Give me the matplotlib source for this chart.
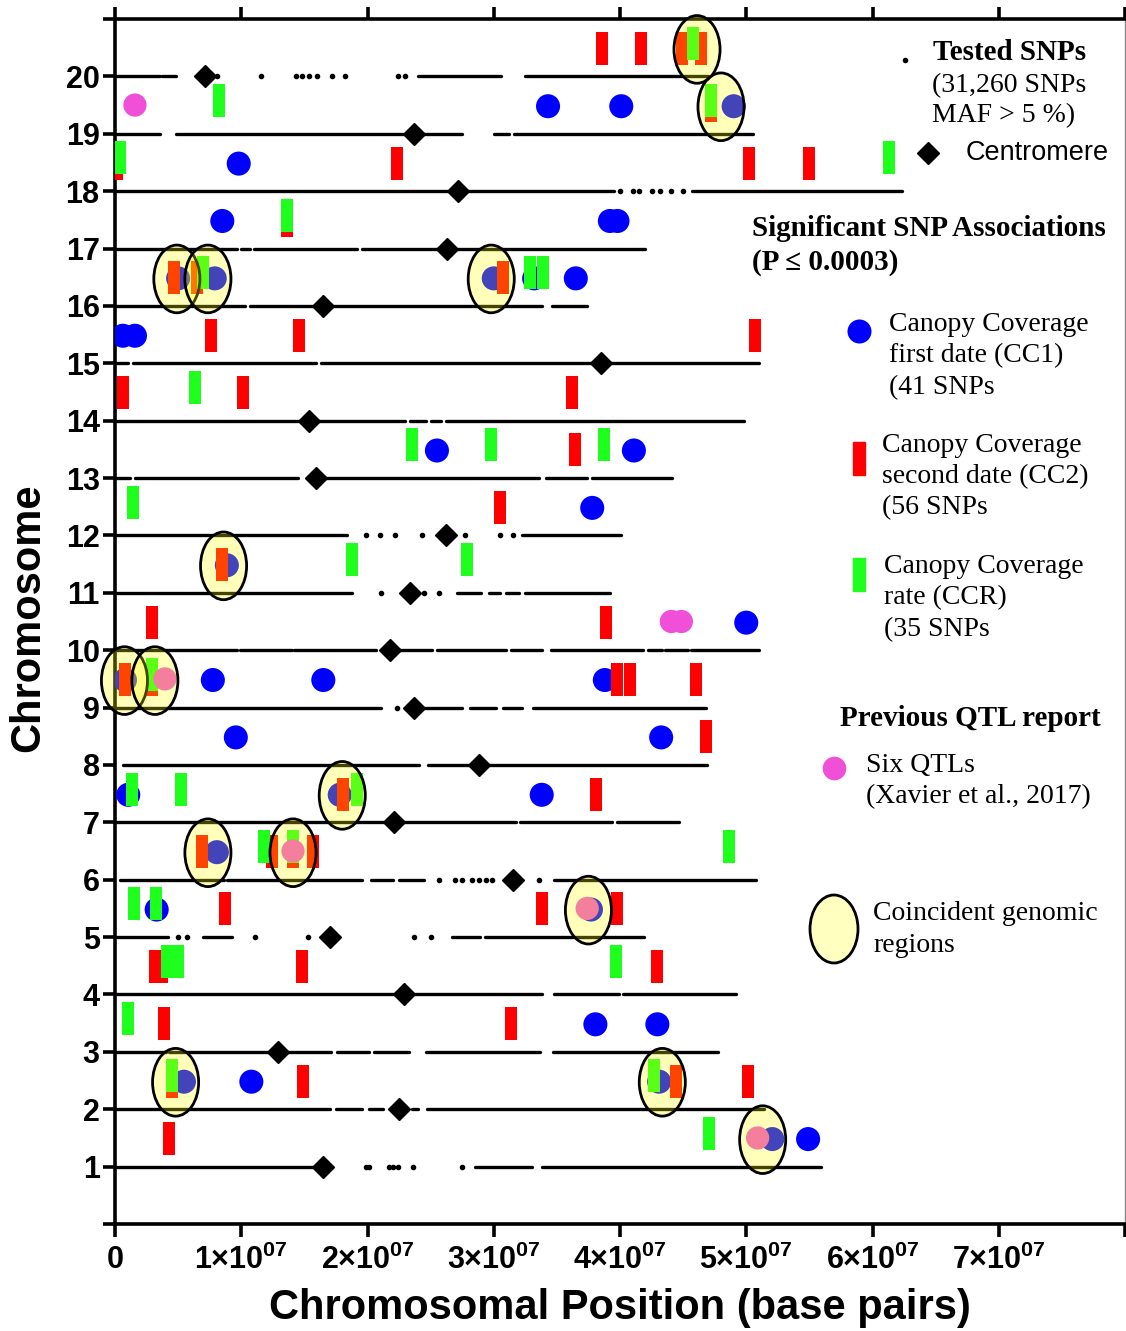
import numpy as np
import matplotlib.pyplot as plt
from matplotlib.patches import Ellipse, Rectangle
from matplotlib.lines import Line2D
from matplotlib.ticker import FuncFormatter

plt.rcParams['font.family'] = 'Liberation Sans'
plt.rcParams['mathtext.fontset'] = 'custom'
plt.rcParams['mathtext.rm'] = 'Liberation Sans:bold'
plt.rcParams['mathtext.bf'] = 'Liberation Sans:bold'

W, H = 1126, 1331
UNIT = 1e5  # positions below are in units of 100 kb

# ---- data (positions in 100 kb) ----
chromosomes = list(range(1, 21))
centromere_pos = [165, 224.7, 129, 229, 170, 315, 220.7, 288, 236.5, 218,
                  234, 262, 159, 154, 385, 164.5, 263, 272, 237, 71]

# dense runs of tested SNPs (start, end) per chromosome
snp_runs = {
    20: [(0, 36), (37, 48), (240, 306), (325, 470)],
    19: [(0, 36), (48, 275), (300, 312), (316, 505)],
    18: [(0, 395), (457, 623)],
    17: [(0, 97), (100, 107), (110, 192), (196, 420)],
    16: [(0, 103), (107, 338), (346, 374)],
    15: [(0, 10), (14, 159), (163, 510)],
    14: [(0, 230), (234, 246), (250, 258), (262, 498)],
    13: [(0, 12), (16, 145), (152, 336), (341, 374), (378, 441)],
    12: [(0, 184), (322, 401)],
    11: [(0, 188), (271, 290), (296, 305), (310, 320), (325, 392)],
    10: [(0, 96.5), (99, 140), (141.5, 207), (225, 251), (255, 310), (314, 338),
         (345, 418), (422, 433), (436, 454), (456, 510)],
    9: [(0, 211), (245, 275), (281, 302), (307, 322), (331, 468)],
    8: [(6, 241), (248, 469)],
    7: [(0, 318), (321, 394), (398, 447)],
    6: [(4, 86), (89, 196), (203, 220), (225, 245), (348, 508)],
    5: [(0, 42), (70, 93), (267, 289), (293, 419)],
    4: [(0, 338), (348, 399), (402, 492)],
    3: [(0, 40), (43, 171), (176, 201), (205, 233), (246, 337), (347, 478)],
    2: [(0, 170), (175, 196), (201, 212), (223, 231), (235, 240), (247, 514)],
    1: [(0, 160), (162.5, 167), (285, 330), (338, 559)],
}
# isolated tested SNPs
snp_single = {
    20: [81, 115.5, 143, 148, 154, 160, 172, 182, 224, 230],
    18: [400, 410, 415, 425, 432, 440, 450],
    12: [199, 210, 221.5, 243, 277, 305, 315],
    11: [211, 245, 257],
    9: [223],
    6: [257, 269, 275, 283, 288, 294, 299, 336],
    5: [50, 57, 111, 153, 237, 250],
    1: [199, 201, 217, 220, 224, 236, 275],
}

cc1_chrom = [19, 19, 19, 18, 17, 17, 17, 16, 16, 16, 16, 16, 15, 15, 13, 13, 12, 11, 10,
             9, 9, 9, 9, 8, 8, 7, 7, 7, 6, 5, 5, 3, 3, 2, 2, 2, 1, 1]
cc1_pos = [343, 401, 490, 98, 85, 392, 398, 50, 79, 300, 332, 365, 6.3, 15.8, 255, 411, 378, 88.6, 500,
           7.9, 77.5, 165, 388, 95.7, 432.6, 10.5, 178, 338, 80.7, 33, 377, 380.5, 429.6, 54.6, 108, 431,
           520.6, 549]

cc2_chrom = [20, 20, 20, 20, 19, 18, 18, 18, 18, 17, 16, 16, 16, 15, 15, 15, 14, 14, 14, 13, 12, 11,
             10, 10, 9, 9, 9, 9, 9, 8, 7, 7, 6, 6, 6, 6, 5, 5, 5, 4, 4, 4, 4, 3, 3, 2, 2, 2, 2, 1]
cc2_pos = [386, 417, 449, 464, 472, 1.6, 223, 502, 550, 136, 47, 65, 307, 76, 145.5, 507, 6.3, 101, 362,
           364, 305, 85, 29, 389, 7.9, 29, 398, 408, 460, 468, 180.6, 381, 68.8, 124, 141, 156.6,
           87, 338, 398, 31.6, 37.2, 148, 429, 39, 314, 45, 149, 444, 501.6, 42.7]

ccr_chrom = [20, 19, 19, 18, 18, 17, 16, 16, 16, 14, 13, 13, 13, 12, 11, 11, 9, 7, 7, 7, 6, 6, 6,
             5, 5, 4, 4, 4, 3, 2, 2, 1]
ccr_pos = [458, 82, 472, 3.6, 613, 136, 70, 329, 339, 63, 235, 298, 387, 14.5, 187.5, 279, 29,
           13.6, 52, 191.5, 118, 141, 486.6, 15, 32.4, 41, 50, 397, 10.5, 45, 427, 470.7]

qtl_chrom = [19, 10, 10, 9, 6, 5, 1]
qtl_pos = [15.8, 440.7, 448.6, 39.5, 141, 374, 509]

coincident_chrom = [20, 19, 16, 16, 16, 11, 9, 9, 7, 6, 6, 5, 2, 2, 1]
coincident_pos = [461, 480, 49, 73.6, 298, 86, 7.5, 31.6, 180, 73.6, 141, 375, 48, 433.5, 513]


def fx(px):
    return px / W


def fy(py):
    return 1 - py / H


fig = plt.figure(figsize=(W / 100, H / 100), dpi=100)
ax = fig.add_axes([fx(115), fy(1224), (1125 - 115) / W, (1224 - 19) / H])
ax.set_xlim(0, 8e7)
ax.set_ylim(0, 21)

# tested SNPs
for c, runs in snp_runs.items():
    for a, b in runs:
        ax.plot([a * UNIT, b * UNIT], [c, c], color='black', lw=2.4, solid_capstyle='round', zorder=2)
for c, xs in snp_single.items():
    ax.plot(np.array(xs) * UNIT, [c] * len(xs), 'o', ms=3, color='black', zorder=2)

ax.plot(np.array(centromere_pos) * UNIT, chromosomes, 'D', ms=11, color='black', zorder=3)

ax.scatter(np.array(cc1_pos) * UNIT, np.array(cc1_chrom) + 0.48, s=300, color='#0000FF',
           edgecolors='none', zorder=4)
ax.bar(np.array(cc2_pos) * UNIT, 0.575, width=0.95e6, bottom=np.array(cc2_chrom) + 0.49 - 0.2875,
       color='#FF0000', zorder=5)
ax.bar(np.array(ccr_pos) * UNIT, 0.575, width=0.95e6, bottom=np.array(ccr_chrom) + 0.58 - 0.2875,
       color='#1EFF1E', zorder=6)
ax.scatter(np.array(qtl_pos) * UNIT, np.array(qtl_chrom) + 0.5, s=280, color='#F050D8',
           edgecolors='none', zorder=7)

for c, m in zip(coincident_chrom, coincident_pos):
    ax.add_patch(Ellipse((m * UNIT, c + 0.47), width=3.65e6, height=1.18, facecolor=(1, 1, 0, 0.27),
                         edgecolor='black', lw=2, zorder=8, clip_on=False))

# axes styling
for s in ['left', 'bottom', 'top']:
    ax.spines[s].set_linewidth(2.6)
ax.spines['right'].set_linewidth(1)
ax.spines['right'].set_color('#888888')

ax.set_xticks(np.arange(0, 8.1e7, 1e7))
ax.xaxis.set_major_formatter(FuncFormatter(
    lambda v, p: '0' if v == 0 else ('' if v > 7.5e7 else r'$%d{\times}10^{07}$' % round(v / 1e7))))
ax.tick_params(axis='x', direction='out', length=9, width=2.6, top=True, labeltop=False,
               labelsize=22, pad=6)
ax.set_yticks(range(0, 22))
ax.set_yticklabels(['' if i in (0, 21) else str(i) for i in range(0, 22)])
ax.tick_params(axis='y', direction='out', length=9, width=2.6, labelsize=22, pad=2)
for lbl in ax.get_xticklabels() + ax.get_yticklabels():
    lbl.set_fontweight('bold')

fig.text(fx(620), fy(1308), 'Chromosomal Position (base pairs)', ha='center', va='center',
         fontsize=30, weight='bold')
fig.text(fx(28), fy(618), 'Chromosome', ha='center', va='center', rotation=90,
         fontsize=30, weight='bold')

# legend
serif = 'Liberation Serif'


def ltext(x, y, s, bold=False, fam=serif, size=20):
    fig.text(fx(x), fy(y), s, ha='left', va='center', fontsize=size, family=fam,
             weight='bold' if bold else 'normal')


fig.add_artist(Line2D([fx(905)], [fy(60)], marker='o', ms=3, color='black', transform=fig.transFigure))
ltext(933, 53, 'Tested SNPs', bold=True, size=21)
ltext(932, 86, '(31,260 SNPs')
ltext(932, 116, 'MAF > 5 %)')
fig.add_artist(Line2D([fx(928)], [fy(153)], marker='D', ms=11, color='black', transform=fig.transFigure))
ltext(966, 153, 'Centromere', fam='Liberation Sans', size=19.5)

ltext(752, 228, 'Significant SNP Associations', bold=True, size=21)
ltext(752, 262, '(P \u2264 0.0003)', bold=True, size=21)

fig.add_artist(Line2D([fx(859)], [fy(331)], marker='o', ms=17.3, color='#0000FF', mec='none',
                      transform=fig.transFigure))
ltext(889, 325, 'Canopy Coverage')
ltext(889, 356, 'first date (CC1)')
ltext(889, 388, '(41 SNPs')

fig.add_artist(Rectangle((fx(853), fy(475)), 12 / W, 33 / H, color='#FF0000', transform=fig.transFigure))
ltext(882, 445, 'Canopy Coverage')
ltext(882, 477, 'second date (CC2)')
ltext(882, 508, '(56 SNPs')

fig.add_artist(Rectangle((fx(853), fy(591)), 12 / W, 33 / H, color='#1EFF1E', transform=fig.transFigure))
ltext(884, 566, 'Canopy Coverage')
ltext(884, 598, 'rate (CCR)')
ltext(884, 630, '(35 SNPs')

ltext(840, 719, 'Previous QTL report', bold=True, size=21)
fig.add_artist(Line2D([fx(834)], [fy(768)], marker='o', ms=17, color='#F050D8', mec='none',
                      transform=fig.transFigure))
ltext(866, 765, 'Six QTLs')
ltext(866, 797, '(Xavier et al., 2017)')

fig.add_artist(Ellipse((fx(834), fy(929)), 48 / W, 68 / H, facecolor='#FFFFC0', edgecolor='black',
                       lw=2, transform=fig.transFigure))
ltext(873, 914, 'Coincident genomic')
ltext(873, 946, 'regions')

fig.savefig('out.png', dpi=100)
